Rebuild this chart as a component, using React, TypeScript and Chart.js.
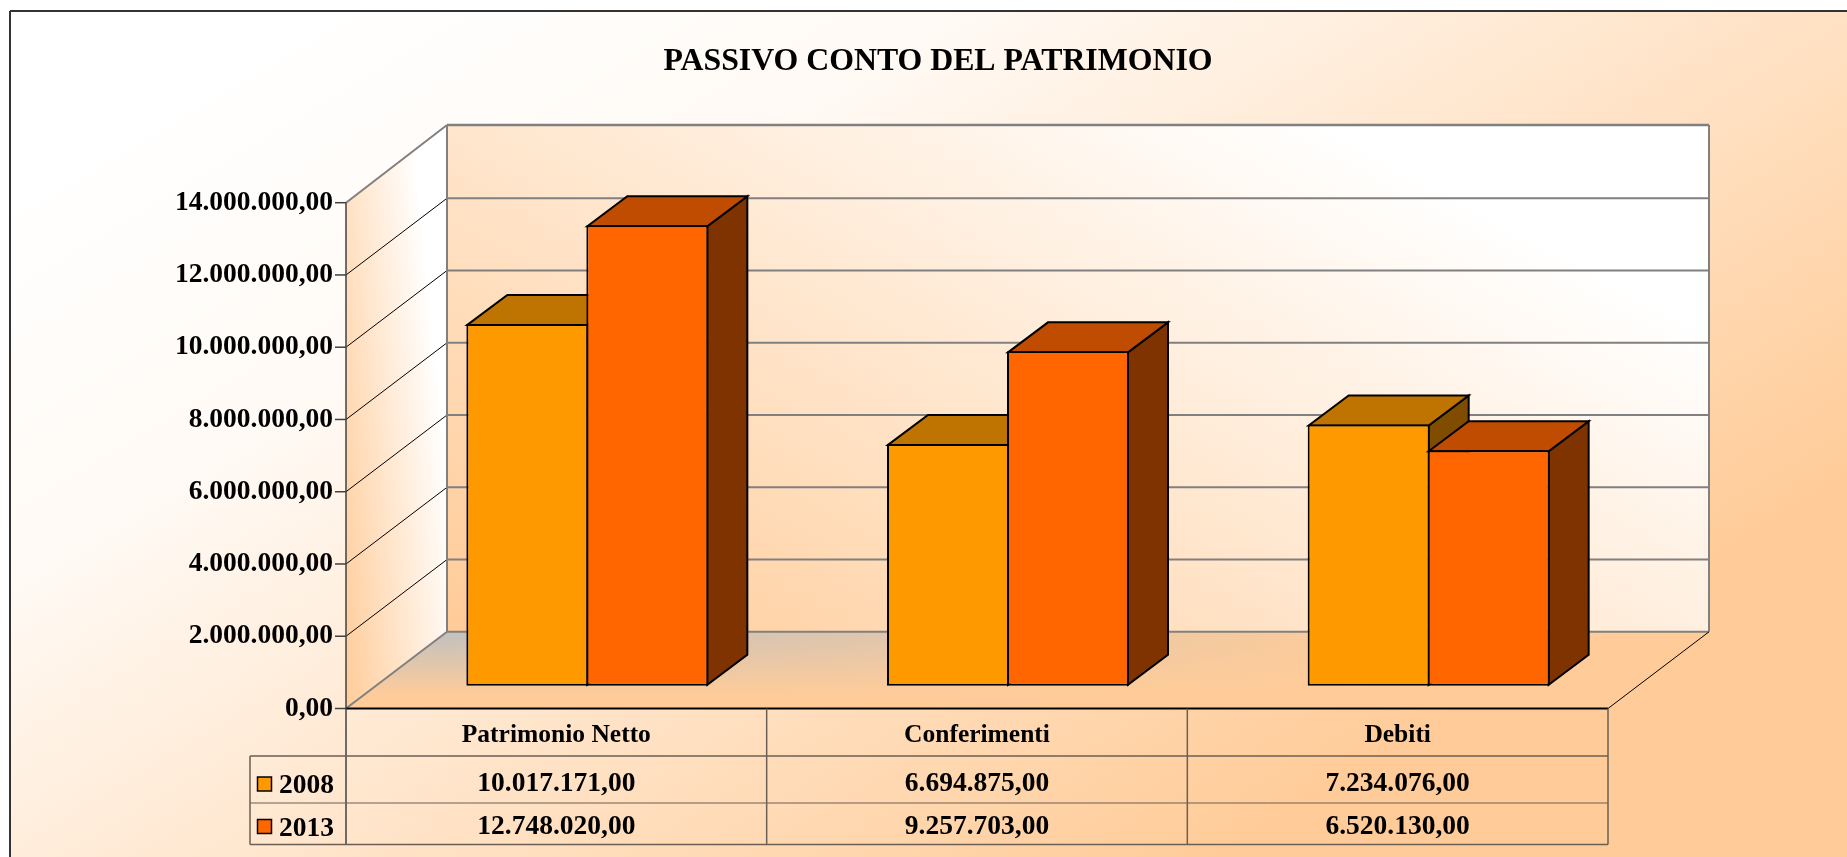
import React, { useEffect, useRef } from "react";
import { Chart, registerables } from "chart.js";

Chart.register(...registerables);

const titleText = "PASSIVO CONTO DEL PATRIMONIO";
const categories = ["Patrimonio Netto", "Conferimenti", "Debiti"];
const series2008 = [10017171, 6694875, 7234076];
const series2013 = [12748020, 9257703, 6520130];
const seriesNames = ["2008", "2013"];
const frontColors = ["#FF9900", "#FF6600"];
const topColors = ["#BF7300", "#BF4C00"];
const sideColors = ["#7F4C00", "#7F3300"];
const yMax = 14000000;
const yStep = 2000000;

const SERIF = '"Liberation Serif", "Times New Roman", serif';
const WALL_DX = 101, WALL_DY = -76.7;
const BAR_DX = 31, BAR_DY = -22.7;
const BAR_DEPTH_X = 40, BAR_DEPTH_Y = -30;

function fmt(n: number): string {
  const fixed = Math.abs(n).toFixed(2).split(".");
  const intPart = fixed[0].replace(/\B(?=(\d{3})+(?!\d))/g, ".");
  return intPart + "," + fixed[1];
}

function line(ctx: CanvasRenderingContext2D, x1: number, y1: number, x2: number, y2: number, color: string, w: number) {
  ctx.strokeStyle = color;
  ctx.lineWidth = w;
  ctx.beginPath();
  ctx.moveTo(x1, y1);
  ctx.lineTo(x2, y2);
  ctx.stroke();
}

function poly(ctx: CanvasRenderingContext2D, pts: number[][], fill: any) {
  ctx.fillStyle = fill;
  ctx.beginPath();
  pts.forEach((p, i) => (i ? ctx.lineTo(p[0], p[1]) : ctx.moveTo(p[0], p[1])));
  ctx.closePath();
  ctx.fill();
}

const scenePlugin = {
  id: "scene",
  afterLayout(chart: any) {
    // centre the title over the plot as in the original
    if (chart.titleBlock) chart.titleBlock.left = 268;
  },
  beforeDraw(chart: any) {
    const { ctx, width, height } = chart;
    const area = chart.chartArea;
    const y = chart.scales.y;
    ctx.save();
    ctx.fillStyle = "#FFFFFF";
    ctx.fillRect(0, 0, width, height);
    // page panel
    const bg = ctx.createLinearGradient(-176, 289, 441, 1318);
    bg.addColorStop(0, "#FFFFFF");
    bg.addColorStop(0.286, "#FFFAF5");
    bg.addColorStop(1, "#FFCC99");
    ctx.fillStyle = bg;
    ctx.fillRect(10, 11, width, height);
    line(ctx, 10, 11, width, 11, "#333333", 2);
    line(ctx, 10, 11, 10, height, "#333333", 2);

    const L = area.left, R = area.right, T = area.top, B = area.bottom;
    const bL = L + WALL_DX, bR = R + WALL_DX, bT = T + WALL_DY, bB = B + WALL_DY;

    // back wall
    const back = ctx.createLinearGradient(460, 620, 861, -125);
    back.addColorStop(0, "#FFCC99");
    back.addColorStop(1, "#FFFFFF");
    ctx.fillStyle = back;
    ctx.fillRect(bL, bT, bR - bL, bB - bT);

    // side wall
    const side = ctx.createLinearGradient(345, 700, 468.8, 687.6);
    side.addColorStop(0, "#FFCC99");
    side.addColorStop(1, "#FFFFFF");
    poly(ctx, [[L, B], [bL, bB], [bL, bT], [L, T]], side);

    // floor: grey at the back, fading to the front and to the right
    const floorPts = [[L, B], [bL, bB], [bR, bB], [R, B]];
    poly(ctx, floorPts, "#FFCC99");
    const floor = ctx.createLinearGradient(0, bB - 2, 0, bB + 64);
    floor.addColorStop(0, "rgba(192,192,192,1)");
    floor.addColorStop(1, "rgba(192,192,192,0)");
    poly(ctx, floorPts, floor);
    const floorFade = ctx.createLinearGradient(bL, 0, bL + 953, 0);
    floorFade.addColorStop(0, "rgba(255,204,153,0)");
    floorFade.addColorStop(1, "rgba(255,204,153,1)");
    poly(ctx, floorPts, floorFade);

    // wall grid lines
    const ticks = y.ticks.map((t: any) => t.value);
    ticks.forEach((v: number) => {
      const py = y.getPixelForValue(v);
      if (v !== 0 && v !== yMax) line(ctx, L, py, bL, py + WALL_DY, "#000000", 1);
      if (v !== yMax) line(ctx, bL, py + WALL_DY, bR, py + WALL_DY, "#808080", 2);
    });
    line(ctx, bL, bT - 1, bR, bT - 1, "#808080", 2.5);
    line(ctx, bL, bT - 1, bL, bB, "#808080", 2);
    line(ctx, bR, bT - 1, bR, bB, "#808080", 2);
    line(ctx, L, T, bL, bT - 1, "#808080", 2);
    line(ctx, L, B, bL, bB, "#808080", 2);
    line(ctx, R, B, bR, bB, "#000000", 1);
    ctx.restore();
  },
  beforeDatasetsDraw(chart: any) {
    const { ctx } = chart;
    // the nearer series must cover the side of the previous one, so draw in series order
    chart.data.datasets.forEach((_: any, i: number) => {
      const meta = chart.getDatasetMeta(i);
      ctx.save();
      ctx.translate(BAR_DX, BAR_DY);
      ctx.lineJoin = "miter";
      meta.data.forEach((bar: any) => {
        const p = bar.getProps(["x", "y", "base", "width"], true);
        const l = p.x - p.width / 2 + 1, r = p.x + p.width / 2 - 1;
        const t = p.y + 1, b = p.base - 1;
        ctx.strokeStyle = "#000000";
        ctx.lineWidth = 2;
        poly(ctx, [[r, t], [r + BAR_DEPTH_X, t + BAR_DEPTH_Y], [r + BAR_DEPTH_X, b + BAR_DEPTH_Y], [r, b]], sideColors[i]);
        ctx.stroke();
        poly(ctx, [[l, t], [l + BAR_DEPTH_X, t + BAR_DEPTH_Y], [r + BAR_DEPTH_X, t + BAR_DEPTH_Y], [r, t]], topColors[i]);
        ctx.stroke();
      });
      meta.controller.draw();
      ctx.restore();
    });
    return false;
  },
  afterDraw(chart: any) {
    const { ctx } = chart;
    const area = chart.chartArea;
    const x = chart.scales.x;
    const y = chart.scales.y;
    const L = area.left, R = area.right, B = area.bottom;
    const rowTops = [B + 47.5, B + 94.5, B + 136];
    const tableLeft = 250;
    ctx.save();
    const grey = "#6A5F55";
    line(ctx, L, B, R, B, "#000000", 2);
    y.ticks.forEach((t: any) => {
      const py = y.getPixelForValue(t.value);
      line(ctx, L - 11, py, L, py, "#404040", 1.5);
    });
    line(ctx, L, area.top, L, rowTops[2], "#404040", 1.5);
    rowTops.forEach((ry, k) => line(ctx, tableLeft, ry, R, ry, grey, k === 1 ? 1 : 1.5));
    line(ctx, tableLeft, rowTops[0], tableLeft, rowTops[2], grey, 1.5);
    const half = (x.getPixelForValue(1) - x.getPixelForValue(0)) / 2;
    categories.forEach((_, c) => {
      const cx = x.getPixelForValue(c) + half;
      line(ctx, cx, B, cx, rowTops[2], grey, 1.5);
    });

    ctx.textBaseline = "middle";
    ctx.fillStyle = "#000000";
    ctx.font = "bold 27.5px " + SERIF;
    ctx.textAlign = "center";
    const rows = [series2008, series2013];
    const rowY = [B + 75.5, B + 118];
    rows.forEach((vals, r) => {
      vals.forEach((v, c) => ctx.fillText(fmt(v), x.getPixelForValue(c), rowY[r]));
      ctx.textAlign = "left";
      ctx.fillText(seriesNames[r], 279, rowY[r] + 2);
      ctx.textAlign = "center";
      ctx.fillStyle = frontColors[r];
      ctx.strokeStyle = "#000000";
      ctx.lineWidth = 1.5;
      ctx.fillRect(257.5, rowY[r] - 7, 14, 14);
      ctx.strokeRect(257.5, rowY[r] - 7, 14, 14);
      ctx.fillStyle = "#000000";
    });
    ctx.restore();
  },
};

export default function App() {
  const ref = useRef<HTMLCanvasElement | null>(null);
  useEffect(() => {
    document.body.style.margin = "0";
    const chart = new Chart(ref.current as HTMLCanvasElement, {
      type: "bar",
      data: {
        labels: categories,
        datasets: [
          { label: seriesNames[0], data: series2008, backgroundColor: frontColors[0], borderColor: "#000000", borderWidth: 2, borderSkipped: false, clip: false },
          { label: seriesNames[1], data: series2013, backgroundColor: frontColors[1], borderColor: "#000000", borderWidth: 2, borderSkipped: false, clip: false },
        ],
      },
      plugins: [scenePlugin],
      options: {
        responsive: false,
        animation: false,
        layout: { padding: { left: 0, right: 239, top: 0, bottom: 0 } },
        datasets: { bar: { barPercentage: 1.0167, categoryPercentage: 0.5705 } },
        plugins: {
          legend: { display: false },
          tooltip: { enabled: false },
          title: {
            display: true,
            text: titleText,
            color: "#000000",
            font: { family: SERIF, size: 31.8, weight: "bold", lineHeight: 1.2 },
            padding: { top: 43, bottom: 121.54 },
          },
        },
        scales: {
          x: {
            type: "category",
            border: { display: false },
            grid: { display: false, drawTicks: false },
            ticks: { color: "#000000", font: { family: SERIF, size: 25.5, weight: "bold" }, padding: 12, maxRotation: 0 },
            afterFit: (s: any) => { s.height = 148.5; },
          },
          y: {
            type: "linear",
            min: 0,
            max: yMax,
            border: { display: false },
            grid: { display: false, drawTicks: false },
            ticks: {
              stepSize: yStep,
              color: "#000000",
              padding: 13,
              font: { family: SERIF, size: 27.5, weight: "bold" },
              callback: (v: any) => fmt(Number(v)),
            },
            afterFit: (s: any) => { s.width = 346; },
          },
        },
      },
    } as any);
    return () => chart.destroy();
  }, []);
  return <canvas ref={ref} width={1847} height={857} style={{ display: "block", width: 1847, height: 857 }} />;
}
